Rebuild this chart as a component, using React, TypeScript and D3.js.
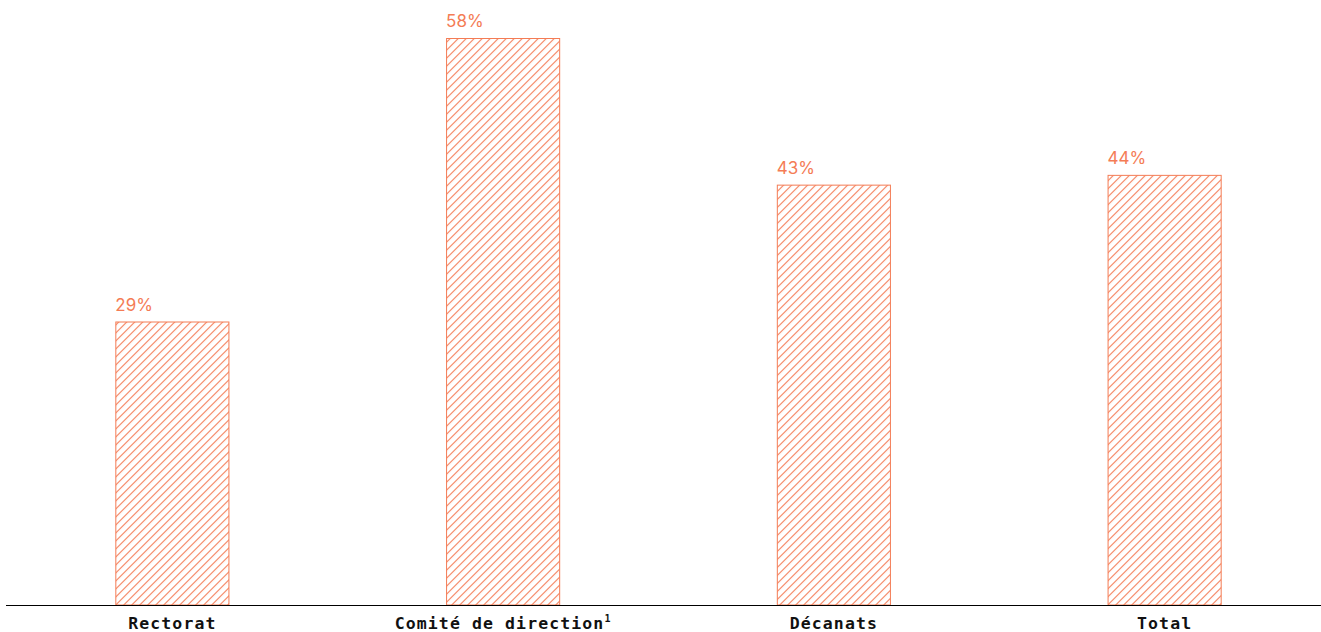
import React from "react";
import * as d3 from "d3";

const categories = ["Rectorat", "Comité de direction", "Décanats", "Total"];
const superscripts = ["", "1", "", ""];
const values = [29, 58, 43, 44];

const W = 1321;
const H = 632;
const COLOR = "#F47C55";
const HATCH = 8 / Math.SQRT2;

export default function App() {
  const x = d3
    .scaleBand<string>()
    .domain(categories)
    .range([7, 1330])
    .paddingInner(0.655)
    .paddingOuter(0.3275);
  const y = d3.scaleLinear().domain([0, 58]).range([605, 38]);

  return (
    <svg
      width={W}
      height={H}
      style={{ position: "absolute", left: 0, top: 0 }}
    >
      <defs>
        <pattern
          id="hatch"
          patternUnits="userSpaceOnUse"
          width={HATCH}
          height={HATCH}
          patternTransform="rotate(45)"
        >
          <rect x={0} y={0} width={1.1} height={HATCH} fill={COLOR} />
        </pattern>
      </defs>
      {categories.map((c, i) => {
        const x0 = x(c)!;
        const y0 = y(values[i]);
        return (
          <g key={c}>
            <rect
              x={x0 + 0.5}
              y={y0 + 0.5}
              width={x.bandwidth() - 1}
              height={y(0) - y0 - 0.5}
              fill="url(#hatch)"
              stroke={COLOR}
              strokeWidth={1}
            />
            <text
              x={x0}
              y={y0 - 11}
              fill={COLOR}
              fontFamily="Inter, 'Noto Sans', sans-serif"
              fontSize={17}
            >
              {values[i]}%
            </text>
            <text
              x={x0 + x.bandwidth() / 2}
              y={629}
              textAnchor="middle"
              fill="#111"
              fontFamily="'DejaVu Sans Mono', monospace"
              fontWeight="bold"
              fontSize={16.5}
              letterSpacing={1.1}
            >
              {c}
              {superscripts[i] && (
                <tspan fontSize={10} dy={-7}>
                  {superscripts[i]}
                </tspan>
              )}
            </text>
          </g>
        );
      })}
      <line x1={6} x2={1321} y1={605.5} y2={605.5} stroke="#000" strokeWidth={1} />
    </svg>
  );
}
